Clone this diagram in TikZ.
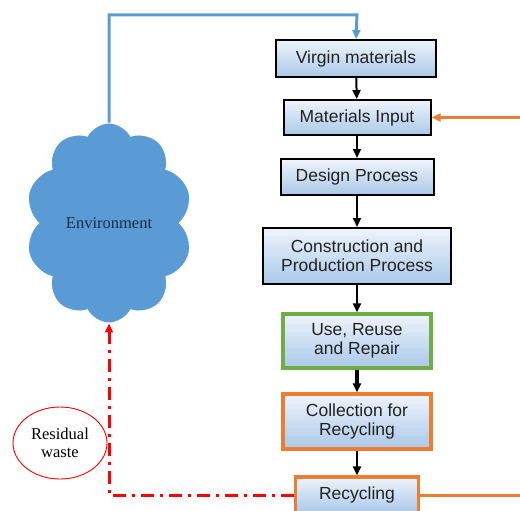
\documentclass[tikz,border=0pt]{standalone}
\usepackage{fontspec}
\setmainfont{Liberation Sans}
\newfontfamily\envfont{Liberation Serif}
\usetikzlibrary{shapes.symbols,shapes.geometric,arrows.meta}
\definecolor{envblue}{HTML}{5B9BD5}
\definecolor{envtext}{HTML}{1A2A4A}
\definecolor{recorange}{HTML}{ED7D31}
\definecolor{usegreen}{HTML}{70AD47}
\definecolor{boxtop}{HTML}{EEF4FB}
\definecolor{boxblue}{HTML}{AAC8E8}
\definecolor{boxtext}{HTML}{222222}
\tikzset{bx/.style = {rectangle, draw, line width=2pt, top color=boxtop, bottom color=boxblue, text=boxtext,
                      align=center, inner sep=0pt, font=\fontsize{17.5}{19}\selectfont},
         gbx/.style = {bx, draw=usegreen, line width=3.2pt},
         obx/.style = {bx, draw=recorange, line width=3.2pt},
         fl/.style = {->, line width=2pt},
         env/.style = {cloud, cloud puffs=10, cloud puff arc=125, aspect=0.8, fill=envblue, draw=white,
                       line width=1pt, minimum width=168pt, minimum height=200pt, inner sep=0pt,
                       text=envtext, font=\envfont\fontsize{16.5}{18}\selectfont},
         res/.style = {ellipse, draw=red, line width=0.9pt, minimum width=94pt, minimum height=72pt,
                       inner sep=0pt, align=center, font=\envfont\fontsize{16.5}{18.5}\selectfont}}

\begin{document}
\begin{tikzpicture}[x=1pt, y=-1pt, >={Triangle[length=9pt,width=8pt]}]
    \clip (0,0) rectangle (520,511);
    \useasboundingbox (0,0) rectangle (520,511);
    % flow boxes
    \node[bx, minimum width=160pt, minimum height=37pt] (virgin) at (356,58.5) {Virgin materials};
    \node[bx, minimum width=147pt, minimum height=35pt] (input) at (357,117.5) {Materials Input};
    \node[bx, minimum width=153pt, minimum height=36pt] (design) at (357,177) {Design Process};
    \node[bx, minimum width=188pt, minimum height=56pt] (constr) at (357,256) {Construction and\\Production Process};
    \node[gbx, minimum width=148pt, minimum height=54pt] (use) at (357,341) {Use, Reuse\\and Repair};
    \node[obx, minimum width=148pt, minimum height=55pt] (coll) at (357,421.5) {Collection for\\Recycling};
    \node[obx, minimum width=123pt, minimum height=36pt] (recyc) at (357,495) {Recycling};
    % environment and waste
    \node[env] (envir) at (109,223) {Environment};
    \node[res] (waste) at (60,443) {Residual\\waste};
    \coordinate (bluetop) at (357,15);
    \coordinate (orin) at (520,117.5);
    \coordinate (orout) at (520,495);
    % arrows
    \draw[fl] (virgin) -- (input);
    \draw[fl] (input) -- (design);
    \draw[fl] (design) -- (constr);
    \draw[fl] (constr) -- (use);
    \draw[fl, line width=3.2pt] (use) -- (coll);
    \draw[fl] (coll) -- (recyc);
    \draw[->, envblue, line width=3pt] (envir.north) |- (bluetop) -- (virgin.north);
    \draw[->, recorange, line width=3pt] (orin) -- (input.east);
    \draw[recorange, line width=3pt] (recyc.east) -- (orout);
    \draw[->, red, line width=3pt, dash pattern=on 13pt off 6pt on 3pt off 6pt] (recyc.west) -| (envir.south);
\end{tikzpicture}
\end{document}
